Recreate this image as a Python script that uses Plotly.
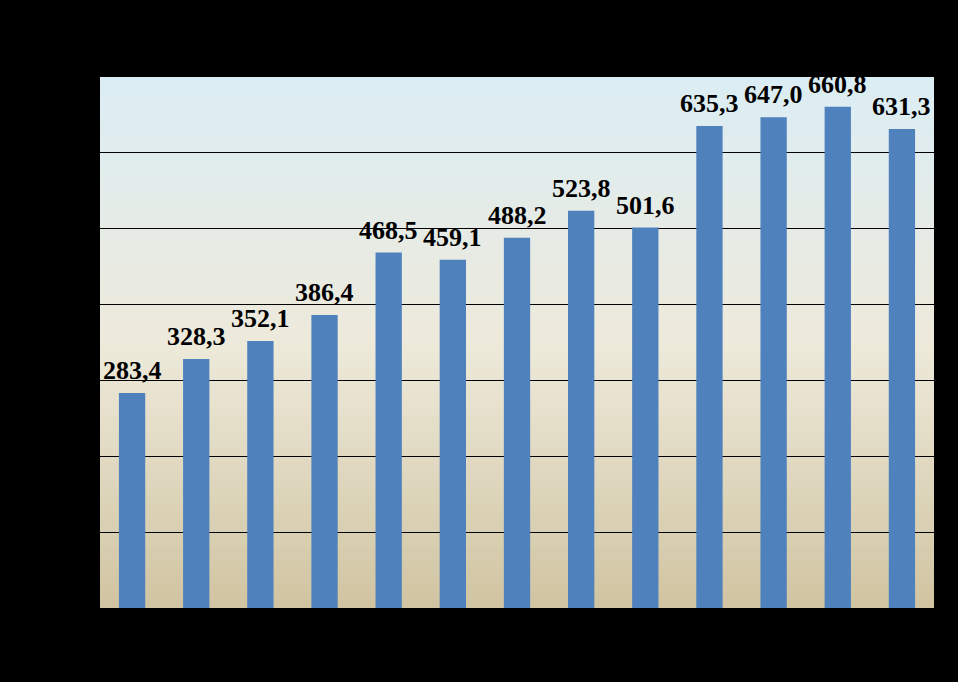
import plotly.graph_objects as go

categories = ["2000", "2001", "2002", "2003", "2004", "2005", "2006",
              "2007", "2008", "2009", "2010", "2011", "2012"]
values = [283.4, 328.3, 352.1, 386.4, 468.5, 459.1, 488.2,
          523.8, 501.6, 635.3, 647.0, 660.8, 631.3]
labels = [f"{v:.1f}".replace(".", ",") for v in values]

fig = go.Figure()
fig.add_trace(go.Bar(
    x=categories, y=values,
    marker=dict(color="#4f81bd", line=dict(width=0)),
    showlegend=False, hoverinfo="x+y",
))

# value labels placed at each category's index on the category axis
for i, (v, t) in enumerate(zip(values, labels)):
    fig.add_annotation(x=i, y=v, text=t, showarrow=False, yanchor="bottom",
                       xanchor="center", yshift=6,
                       font=dict(family="Liberation Serif", size=26, color="#000000",
                                 weight="bold"))

# background vertical gradient (top light blue -> cream -> tan)
stops = [(0.0, (0xd0, 0xc4, 0xa1)), (0.5, (0xee, 0xea, 0xdb)), (1.0, (0xdb, 0xed, 0xf4))]

def col(t):
    for (t0, c0), (t1, c1) in zip(stops[:-1], stops[1:]):
        if t0 <= t <= t1:
            f = (t - t0) / (t1 - t0)
            return "rgb(%d,%d,%d)" % tuple(round(a + (b - a) * f) for a, b in zip(c0, c1))
    return "rgb(%d,%d,%d)" % stops[-1][1]

n = 80
shapes = []
for k in range(n):
    y0 = k / n
    y1 = (k + 1) / n + 0.002
    shapes.append(dict(type="rect", xref="x domain", yref="y domain",
                       x0=0, x1=1, y0=y0, y1=min(y1, 1),
                       fillcolor=col((k + 0.5) / n), line=dict(width=0),
                       layer="below"))

fig.update_layout(
    width=958, height=682,
    margin=dict(l=100, r=24, t=77, b=74),
    paper_bgcolor="#000000",
    plot_bgcolor="rgba(0,0,0,0)",
    bargap=0.59,
    shapes=shapes,
    xaxis=dict(type="category", showgrid=False, zeroline=False, showline=False,
               range=[-0.5, len(categories) - 0.5],
               tickfont=dict(color="#000000", family="Liberation Serif", size=16)),
    yaxis=dict(range=[0, 700], dtick=100, showgrid=True, gridcolor="#000000",
               gridwidth=1, zeroline=False, showline=False,
               ticks="outside", ticklen=3, tickcolor="#000000",
               tickfont=dict(color="#000000", family="Liberation Serif", size=16)),
)

fig.write_html(
    "out.html",
    config={"displayModeBar": False},
    post_script="document.body.style.margin='0';document.body.style.background='#000';document.body.style.overflow='hidden';",
)
